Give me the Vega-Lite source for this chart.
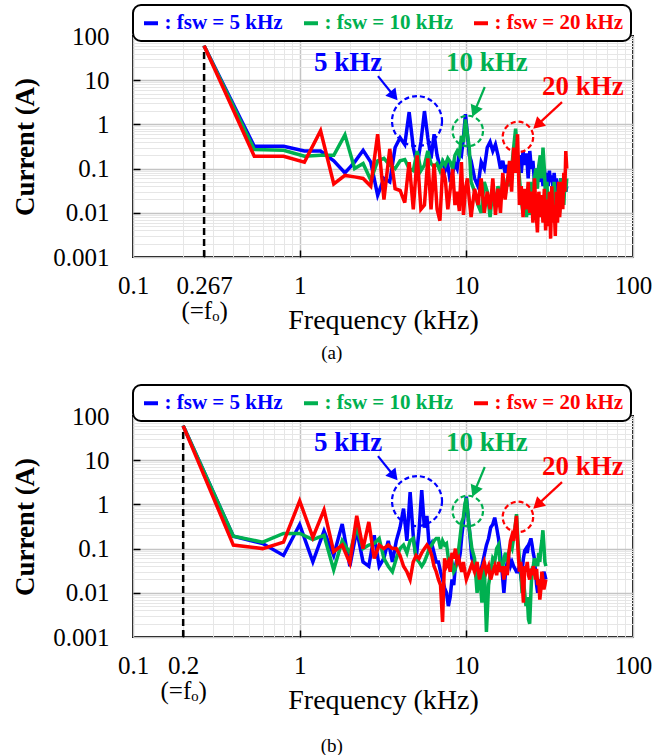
{
  "$schema": "https://vega.github.io/schema/vega-lite/v6.json",
  "padding": {"left": 10, "top": 3, "right": 5, "bottom": 0},
  "spacing": 19,
  "config": {
    "font": "Liberation Serif, Times New Roman, DejaVu Serif, serif",
    "view": {"stroke": "black", "strokeWidth": 2},
    "axis": {
      "labelFont": "Liberation Serif, Times New Roman, DejaVu Serif, serif", "labelFontSize": 25, "labelColor": "black",
      "titleFont": "Liberation Serif, Times New Roman, DejaVu Serif, serif", "titleColor": "black",
      "domain": false, "grid": true, "tickColor": "black", "tickWidth": 1.5, "tickSize": -7,
      "labelOverlap": false, "labelFlush": false, "labelBound": false
    },
    "legend": {"strokeWidth": 2},
    "title": {"font": "Liberation Serif, Times New Roman, DejaVu Serif, serif"}
  },
  "resolve": {"scale": {"color": "independent"}, "legend": {"color": "independent"}},
  "datasets": {
    "foA": [{"f": 0.267, "lo": 0.001, "hi": 60}],
    "foB": [{"f": 0.2, "lo": 0.001, "hi": 60}],
    "txt": [
      {"s": "b", "x": 1.95, "y": 24.5, "t": "5 kHz"},
      {"s": "g", "x": 13.3, "y": 24.5, "t": "10 kHz"},
      {"s": "r", "x": 50, "y": 7.0, "t": "20 kHz"}
    ],
    "circ": [
      {"s": "b", "x": 5.06, "y": 1.19},
      {"s": "g", "x": 10.2, "y": 0.71},
      {"s": "r", "x": 20.4, "y": 0.52}
    ],
    "arr": [
      {"s": "b", "x": 2.95, "y": 12.4, "x2": 3.68, "y2": 4.4},
      {"s": "g", "x": 12.9, "y": 7.0, "x2": 11.2, "y2": 1.96},
      {"s": "r", "x": 37.5, "y": 3.2, "x2": 26.7, "y2": 0.975}
    ],
    "A": [
      {"f": 0.267, "b": 60, "g": 60, "r": 60},
      {"f": 0.534, "b": 0.32, "g": 0.27, "r": 0.19},
      {"f": 0.801, "b": 0.32, "g": 0.26, "r": 0.19},
      {"f": 1.068, "b": 0.25, "g": 0.19, "r": 0.14},
      {"f": 1.335, "b": 0.25, "g": 0.2, "r": 0.72},
      {"f": 1.602, "b": 0.15, "g": 0.2, "r": 0.045},
      {"f": 1.869, "b": 0.08, "g": 0.58, "r": 0.07},
      {"f": 2.136, "b": 0.14, "g": 0.1, "r": 0.065},
      {"f": 2.403, "b": 0.26, "g": 0.13, "r": 0.06},
      {"f": 2.67, "b": 0.14, "g": 0.055, "r": 0.04},
      {"f": 2.937, "b": 0.025, "g": 0.15, "r": 0.6},
      {"f": 3.204, "b": 0.06, "g": 0.17, "r": 0.02},
      {"f": 3.471, "b": 0.05, "g": 0.12, "r": 0.28},
      {"f": 3.738, "b": 0.3, "g": 0.1, "r": 0.035},
      {"f": 4.005, "b": 0.5, "g": 0.15, "r": 0.032},
      {"f": 4.272, "b": 0.35, "g": 0.16, "r": 0.017},
      {"f": 4.539, "b": 1.9, "g": 0.1, "r": 0.14},
      {"f": 4.806, "b": 0.3, "g": 0.09, "r": 0.012},
      {"f": 5.073, "b": 0.12, "g": 0.25, "r": 0.2},
      {"f": 5.34, "b": 0.4, "g": 0.09, "r": 0.012},
      {"f": 5.607, "b": 2.0, "g": 0.12, "r": 0.015},
      {"f": 5.874, "b": 0.5, "g": 0.25, "r": 0.17},
      {"f": 6.141, "b": 0.17, "g": 0.13, "r": 0.012},
      {"f": 6.408, "b": 0.6, "g": 0.11, "r": 0.13},
      {"f": 6.675, "b": 0.2, "g": 0.13, "r": 0.012},
      {"f": 6.942, "b": 0.11, "g": 0.09, "r": 0.0066},
      {"f": 7.209, "b": 0.14, "g": 0.15, "r": 0.1},
      {"f": 7.476, "b": 0.09, "g": 0.12, "r": 0.058},
      {"f": 7.743, "b": 0.12, "g": 0.17, "r": 0.012},
      {"f": 8.01, "b": 0.05, "g": 0.14, "r": 0.035},
      {"f": 8.277, "b": 0.08, "g": 0.1, "r": 0.098},
      {"f": 8.544, "b": 0.13, "g": 0.2, "r": 0.015},
      {"f": 8.811, "b": 0.1, "g": 0.25, "r": 0.03},
      {"f": 9.078, "b": 0.23, "g": 0.2, "r": 0.011},
      {"f": 9.345, "b": 0.2, "g": 0.55, "r": 0.14},
      {"f": 9.612, "b": 0.5, "g": 0.4, "r": 0.009},
      {"f": 9.879, "b": 1.7, "g": 1.3, "r": 0.035},
      {"f": 10.146, "b": 0.6, "g": 0.6, "r": 0.06},
      {"f": 10.413, "b": 0.2, "g": 0.3, "r": 0.02},
      {"f": 10.68, "b": 0.15, "g": 0.05, "r": 0.008},
      {"f": 11.214, "b": 0.06, "g": 0.03, "r": 0.035},
      {"f": 11.748, "b": 0.04, "g": 0.015, "r": 0.015},
      {"f": 12.282, "b": 0.14, "g": 0.01, "r": 0.06},
      {"f": 12.816, "b": 0.1, "g": 0.05, "r": 0.01},
      {"f": 13.35, "b": 0.3, "g": 0.03, "r": 0.03},
      {"f": 13.884, "b": 0.4, "g": 0.008, "r": 0.012},
      {"f": 14.418, "b": 0.25, "g": 0.035, "r": 0.06},
      {"f": 14.952, "b": 0.35, "g": 0.015, "r": 0.009},
      {"f": 15.486, "b": 0.2, "g": 0.04, "r": 0.035},
      {"f": 16.02, "b": 0.1, "g": 0.02, "r": 0.01},
      {"f": 16.554, "b": 0.15, "g": 0.05, "r": 0.08},
      {"f": 17.088, "b": 0.08, "g": 0.025, "r": 0.02},
      {"f": 17.622, "b": 0.12, "g": 0.06, "r": 0.05},
      {"f": 18.156, "b": 0.07, "g": 0.04, "r": 0.15},
      {"f": 18.69, "b": 0.14, "g": 0.1, "r": 0.03},
      {"f": 19.224, "b": 0.09, "g": 0.3, "r": 0.3},
      {"f": 19.758, "b": 0.15, "g": 0.8, "r": 0.08},
      {"f": 20.292, "b": 0.1, "g": 0.2, "r": 0.6},
      {"f": 20.826, "b": 0.2, "g": 0.06, "r": 0.015},
      {"f": 21.36, "b": 0.08, "g": 0.02, "r": 0.04},
      {"f": 21.894, "b": 0.25, "g": 0.01, "r": 0.008},
      {"f": 22.428, "b": 0.12, "g": 0.03, "r": 0.035},
      {"f": 22.962, "b": 0.22, "g": 0.008, "r": 0.012},
      {"f": 23.496, "b": 0.06, "g": 0.02, "r": 0.05},
      {"f": 24.03, "b": 0.25, "g": 0.009, "r": 0.01},
      {"f": 24.564, "b": 0.1, "g": 0.05, "r": 0.03},
      {"f": 25.098, "b": 0.15, "g": 0.015, "r": 0.006},
      {"f": 25.632, "b": 0.05, "g": 0.06, "r": 0.06},
      {"f": 26.166, "b": 0.1, "g": 0.1, "r": 0.012},
      {"f": 26.7, "b": 0.06, "g": 0.035, "r": 0.0036},
      {"f": 27.234, "b": 0.12, "g": 0.12, "r": 0.03},
      {"f": 27.768, "b": 0.05, "g": 0.2, "r": 0.008},
      {"f": 28.302, "b": 0.09, "g": 0.06, "r": 0.025},
      {"f": 28.836, "b": 0.04, "g": 0.3, "r": 0.006},
      {"f": 29.37, "b": 0.1, "g": 0.1, "r": 0.035},
      {"f": 29.904, "b": 0.05, "g": 0.02, "r": 0.004},
      {"f": 30.438, "b": 0.08, "g": 0.05, "r": 0.02},
      {"f": 30.972, "b": 0.04, "g": 0.01, "r": 0.005},
      {"f": 31.506, "b": 0.09, "g": 0.03, "r": 0.03},
      {"f": 32.04, "b": 0.05, "g": 0.008, "r": 0.0026},
      {"f": 32.574, "b": 0.07, "g": 0.04, "r": 0.04},
      {"f": 33.108, "b": 0.035, "g": 0.012, "r": 0.006},
      {"f": 33.642, "b": 0.08, "g": 0.05, "r": 0.015},
      {"f": 34.176, "b": 0.04, "g": 0.007, "r": 0.003},
      {"f": 34.71, "b": 0.06, "g": 0.03, "r": 0.03},
      {"f": 35.244, "b": 0.03, "g": 0.01, "r": 0.006},
      {"f": 35.778, "b": 0.05, "g": 0.04, "r": 0.05},
      {"f": 36.312, "b": 0.025, "g": 0.01, "r": 0.008},
      {"f": 36.846, "b": 0.06, "g": 0.06, "r": 0.02},
      {"f": 37.38, "b": 0.03, "g": 0.02, "r": 0.05},
      {"f": 37.914, "b": 0.05, "g": 0.04, "r": 0.012},
      {"f": 38.448, "b": 0.035, "g": 0.015, "r": 0.08},
      {"f": 38.982, "b": 0.045, "g": 0.05, "r": 0.03},
      {"f": 39.516, "b": 0.03, "g": 0.03, "r": 0.25},
      {"f": 40.05, "b": 0.04, "g": 0.06, "r": 0.1}
    ],
    "B": [
      {"f": 0.2, "b": 60, "g": 60, "r": 60},
      {"f": 0.4, "b": 0.19, "g": 0.19, "r": 0.12},
      {"f": 0.6, "b": 0.13, "g": 0.14, "r": 0.1},
      {"f": 0.8, "b": 0.07, "g": 0.22, "r": 0.14},
      {"f": 1.0, "b": 0.35, "g": 0.22, "r": 1.2},
      {"f": 1.2, "b": 0.05, "g": 0.16, "r": 0.18},
      {"f": 1.4, "b": 0.25, "g": 0.2, "r": 0.75},
      {"f": 1.6, "b": 0.07, "g": 0.033, "r": 0.085},
      {"f": 1.8, "b": 0.36, "g": 0.15, "r": 0.12},
      {"f": 2.0, "b": 0.04, "g": 0.08, "r": 0.047},
      {"f": 2.2, "b": 0.26, "g": 0.3, "r": 0.55},
      {"f": 2.4, "b": 0.05, "g": 0.1, "r": 0.1},
      {"f": 2.6, "b": 0.04, "g": 0.12, "r": 0.4},
      {"f": 2.8, "b": 0.2, "g": 0.13, "r": 0.06},
      {"f": 3.0, "b": 0.04, "g": 0.17, "r": 0.12},
      {"f": 3.2, "b": 0.06, "g": 0.06, "r": 0.1},
      {"f": 3.4, "b": 0.15, "g": 0.04, "r": 0.12},
      {"f": 3.6, "b": 0.05, "g": 0.03, "r": 0.1},
      {"f": 3.8, "b": 0.15, "g": 0.06, "r": 0.1},
      {"f": 4.0, "b": 0.3, "g": 0.1, "r": 0.07},
      {"f": 4.2, "b": 0.8, "g": 0.12, "r": 0.04},
      {"f": 4.4, "b": 0.15, "g": 0.08, "r": 0.03},
      {"f": 4.6, "b": 1.9, "g": 0.15, "r": 0.02},
      {"f": 4.8, "b": 0.2, "g": 0.17, "r": 0.05},
      {"f": 5.0, "b": 0.06, "g": 0.06, "r": 0.07},
      {"f": 5.2, "b": 0.25, "g": 0.05, "r": 0.06},
      {"f": 5.4, "b": 2.1, "g": 0.04, "r": 0.08},
      {"f": 5.6, "b": 0.3, "g": 0.05, "r": 0.1},
      {"f": 5.8, "b": 0.55, "g": 0.07, "r": 0.12},
      {"f": 6.0, "b": 0.1, "g": 0.1, "r": 0.1},
      {"f": 6.2, "b": 0.13, "g": 0.12, "r": 0.07},
      {"f": 6.4, "b": 0.08, "g": 0.15, "r": 0.04},
      {"f": 6.6, "b": 0.05, "g": 0.17, "r": 0.03},
      {"f": 6.8, "b": 0.05, "g": 0.17, "r": 0.02},
      {"f": 7.0, "b": 0.03, "g": 0.1, "r": 0.015},
      {"f": 7.2, "b": 0.02, "g": 0.15, "r": 0.0022},
      {"f": 7.4, "b": 0.013, "g": 0.12, "r": 0.06},
      {"f": 7.6, "b": 0.01, "g": 0.13, "r": 0.04},
      {"f": 7.8, "b": 0.005, "g": 0.06, "r": 0.05},
      {"f": 8.0, "b": 0.008, "g": 0.04, "r": 0.03},
      {"f": 8.2, "b": 0.02, "g": 0.05, "r": 0.08},
      {"f": 8.4, "b": 0.015, "g": 0.03, "r": 0.06},
      {"f": 8.6, "b": 0.04, "g": 0.035, "r": 0.1},
      {"f": 8.8, "b": 0.06, "g": 0.05, "r": 0.05},
      {"f": 9.0, "b": 0.05, "g": 0.1, "r": 0.06},
      {"f": 9.2, "b": 0.08, "g": 0.2, "r": 0.04},
      {"f": 9.4, "b": 0.2, "g": 0.4, "r": 0.03},
      {"f": 9.6, "b": 0.4, "g": 0.5, "r": 0.05},
      {"f": 9.8, "b": 0.8, "g": 1.0, "r": 0.03},
      {"f": 10.0, "b": 1.5, "g": 1.4, "r": 0.02},
      {"f": 10.4, "b": 0.3, "g": 0.3, "r": 0.03},
      {"f": 10.8, "b": 0.06, "g": 0.1, "r": 0.045},
      {"f": 11.2, "b": 0.04, "g": 0.06, "r": 0.03},
      {"f": 11.6, "b": 0.025, "g": 0.01, "r": 0.05},
      {"f": 12.0, "b": 0.03, "g": 0.03, "r": 0.02},
      {"f": 12.4, "b": 0.04, "g": 0.006, "r": 0.035},
      {"f": 12.8, "b": 0.07, "g": 0.05, "r": 0.05},
      {"f": 13.2, "b": 0.12, "g": 0.0013, "r": 0.03},
      {"f": 13.6, "b": 0.17, "g": 0.015, "r": 0.04},
      {"f": 14.0, "b": 0.3, "g": 0.03, "r": 0.02},
      {"f": 14.4, "b": 0.35, "g": 0.06, "r": 0.03},
      {"f": 14.8, "b": 0.5, "g": 0.05, "r": 0.04},
      {"f": 15.2, "b": 0.3, "g": 0.1, "r": 0.025},
      {"f": 15.6, "b": 0.17, "g": 0.12, "r": 0.05},
      {"f": 16.0, "b": 0.08, "g": 0.04, "r": 0.03},
      {"f": 16.4, "b": 0.03, "g": 0.03, "r": 0.04},
      {"f": 16.8, "b": 0.01, "g": 0.06, "r": 0.02},
      {"f": 17.2, "b": 0.03, "g": 0.08, "r": 0.04},
      {"f": 17.6, "b": 0.05, "g": 0.05, "r": 0.025},
      {"f": 18.0, "b": 0.06, "g": 0.08, "r": 0.08},
      {"f": 18.4, "b": 0.04, "g": 0.12, "r": 0.15},
      {"f": 18.8, "b": 0.05, "g": 0.1, "r": 0.2},
      {"f": 19.2, "b": 0.04, "g": 0.17, "r": 0.15},
      {"f": 19.6, "b": 0.035, "g": 0.3, "r": 0.3},
      {"f": 20.0, "b": 0.03, "g": 0.6, "r": 0.55},
      {"f": 20.4, "b": 0.03, "g": 0.15, "r": 0.1},
      {"f": 20.8, "b": 0.04, "g": 0.06, "r": 0.03},
      {"f": 21.2, "b": 0.025, "g": 0.03, "r": 0.05},
      {"f": 21.6, "b": 0.03, "g": 0.01, "r": 0.02},
      {"f": 22.0, "b": 0.06, "g": 0.02, "r": 0.006},
      {"f": 22.4, "b": 0.09, "g": 0.01, "r": 0.04},
      {"f": 22.8, "b": 0.1, "g": 0.005, "r": 0.03},
      {"f": 23.2, "b": 0.08, "g": 0.008, "r": 0.05},
      {"f": 23.6, "b": 0.12, "g": 0.0025, "r": 0.025},
      {"f": 24.0, "b": 0.14, "g": 0.002, "r": 0.02},
      {"f": 24.4, "b": 0.17, "g": 0.01, "r": 0.035},
      {"f": 24.8, "b": 0.12, "g": 0.035, "r": 0.025},
      {"f": 25.2, "b": 0.08, "g": 0.04, "r": 0.04},
      {"f": 25.6, "b": 0.06, "g": 0.06, "r": 0.03},
      {"f": 26.0, "b": 0.03, "g": 0.05, "r": 0.02},
      {"f": 26.4, "b": 0.015, "g": 0.06, "r": 0.035},
      {"f": 26.8, "b": 0.01, "g": 0.04, "r": 0.015},
      {"f": 27.2, "b": 0.015, "g": 0.08, "r": 0.02},
      {"f": 27.6, "b": 0.02, "g": 0.05, "r": 0.007},
      {"f": 28.0, "b": 0.015, "g": 0.1, "r": 0.012},
      {"f": 28.4, "b": 0.025, "g": 0.15, "r": 0.03},
      {"f": 28.8, "b": 0.02, "g": 0.26, "r": 0.02},
      {"f": 29.2, "b": 0.03, "g": 0.12, "r": 0.012},
      {"f": 29.6, "b": 0.025, "g": 0.05, "r": 0.015},
      {"f": 30.0, "b": 0.02, "g": 0.04, "r": 0.02}
    ]
  },
  "vconcat": [
    {
      "width": 500, "height": 221,
      "title": {"text": "(a)", "orient": "bottom", "anchor": "middle", "frame": "bounds", "fontSize": 19, "fontWeight": "normal", "color": "black", "offset": 10},
      "layer": [
        {
          "data": {"name": "foA"},
          "mark": {"type": "rule", "color": "black", "strokeWidth": 2.5, "strokeDash": [7, 4]},
          "encoding": {
            "x": {"field": "f", "type": "quantitative"},
            "y": {"field": "lo", "type": "quantitative"},
            "y2": {"field": "hi"}
          }
        },
        {
          "data": {"name": "A"},
          "transform": [{"fold": ["b", "g", "r"], "as": ["s", "v"]}],
          "mark": {"type": "line", "strokeWidth": 3.5, "clip": true},
          "encoding": {
            "x": {
              "field": "f", "type": "quantitative",
              "scale": {"type": "log", "domain": [0.1, 100], "nice": false},
              "axis": {
                "title": "Frequency (kHz)", "titleFontSize": 28, "titleFontWeight": "normal", "titlePadding": -17,
                "values": [0.1, 0.2, 0.267, 0.3, 0.4, 0.5, 0.6, 0.7, 0.8, 0.9, 1, 2, 3, 4, 5, 6, 7, 8, 9, 10, 20, 30, 40, 50, 60, 70, 80, 90, 100],
                "labelExpr": "datum.value == 0.267 ? ['0.267', '(=fₒ)'] : (datum.value == 0.1 || datum.value == 1 || datum.value == 10 || datum.value == 100) ? format(datum.value, '~g') : ''",
                "labelPadding": 23, "labelLineHeight": 25,
                "gridColor": {"condition": {"test": "datum.value == 0.1 || datum.value == 1 || datum.value == 10 || datum.value == 100", "value": "#c4c4c4"}, "value": "#e6e6e6"},
                "gridWidth": {"condition": {"test": "datum.value == 0.1 || datum.value == 1 || datum.value == 10 || datum.value == 100", "value": 1.5}, "value": 1},
                "gridOpacity": {"condition": {"test": "datum.value == 0.267", "value": 0}, "value": 1},
                "tickOpacity": {"condition": {"test": "datum.value == 1 || datum.value == 10 || datum.value == 0.267", "value": 1}, "value": 0}
              }
            },
            "y": {
              "field": "v", "type": "quantitative",
              "scale": {"type": "log", "domain": [0.001, 100], "nice": false},
              "axis": {
                "title": "Current (A)", "titleFontSize": 27, "titleFontWeight": "bold", "titlePadding": 13,
                "values": [0.001, 0.002, 0.003, 0.004, 0.005, 0.006, 0.007, 0.008, 0.009, 0.01, 0.02, 0.03, 0.04, 0.05, 0.06, 0.07, 0.08, 0.09, 0.1, 0.2, 0.3, 0.4, 0.5, 0.6, 0.7, 0.8, 0.9, 1, 2, 3, 4, 5, 6, 7, 8, 9, 10, 20, 30, 40, 50, 60, 70, 80, 90, 100],
                "labelExpr": "(datum.value == 0.001 || datum.value == 0.01 || datum.value == 0.1 || datum.value == 1 || datum.value == 10 || datum.value == 100) ? format(datum.value, '~g') : ''",
                "labelPadding": 31,
                "gridColor": {"condition": {"test": "datum.value == 0.001 || datum.value == 0.01 || datum.value == 0.1 || datum.value == 1 || datum.value == 10 || datum.value == 100", "value": "#c4c4c4"}, "value": "#e6e6e6"},
                "gridWidth": {"condition": {"test": "datum.value == 0.001 || datum.value == 0.01 || datum.value == 0.1 || datum.value == 1 || datum.value == 10 || datum.value == 100", "value": 1.5}, "value": 1},
                "tickOpacity": {"condition": {"test": "datum.value == 0.01 || datum.value == 0.1 || datum.value == 1 || datum.value == 10", "value": 1}, "value": 0}
              }
            },
            "color": {
              "field": "s", "type": "nominal",
              "scale": {"domain": ["b", "g", "r"], "range": ["#0000FF", "#00B050", "#FF0000"]},
              "legend": {
                "orient": "top", "direction": "horizontal", "title": null,
                "symbolType": "stroke", "symbolSize": 196, "symbolStrokeWidth": 4,
                "labelFont": "Liberation Serif, Times New Roman, DejaVu Serif, serif", "labelFontSize": 21, "labelFontWeight": "bold",
                "labelExpr": "datum.label == 'b' ? ': fsw = 5 kHz' : datum.label == 'g' ? ': fsw = 10 kHz' : ': fsw = 20 kHz'",
                "labelColor": {"expr": "datum.value == 'b' ? '#0000FF' : datum.value == 'g' ? '#00B050' : '#FF0000'"},
                "labelLimit": 0, "labelOffset": 3,
                "strokeColor": "black", "fillColor": "white", "cornerRadius": 8, "padding": 7.5,
                "columnPadding": 12, "offset": -5
              }
            }
          }
        },
        {
          "data": {"name": "circ"},
          "mark": {"type": "point", "shape": "circle", "filled": false, "strokeDash": [5, 3], "strokeWidth": 2.2, "opacity": 1},
          "encoding": {
            "x": {"field": "x", "type": "quantitative"},
            "y": {"field": "y", "type": "quantitative"},
            "color": {"field": "s", "type": "nominal", "legend": null},
            "size": {"condition": {"test": "datum.s == 'b'", "value": 2500}, "value": 930}
          }
        },
        {
          "data": {"name": "arr"},
          "mark": {"type": "rule", "strokeWidth": 2.2},
          "encoding": {
            "x": {"field": "x", "type": "quantitative"},
            "y": {"field": "y", "type": "quantitative"},
            "x2": {"field": "x2"},
            "y2": {"field": "y2"},
            "color": {"field": "s", "type": "nominal", "legend": null}
          }
        },
        {
          "data": {"name": "arr"},
          "transform": [{"filter": "datum.s == 'b'"}],
          "mark": {"type": "point", "shape": "triangle-up", "filled": true, "opacity": 1, "size": 170, "angle": 141},
          "encoding": {
            "x": {"field": "x2", "type": "quantitative"},
            "y": {"field": "y2", "type": "quantitative"},
            "color": {"field": "s", "type": "nominal", "legend": null}
          }
        },
        {
          "data": {"name": "arr"},
          "transform": [{"filter": "datum.s == 'g'"}],
          "mark": {"type": "point", "shape": "triangle-up", "filled": true, "opacity": 1, "size": 170, "angle": 203},
          "encoding": {
            "x": {"field": "x2", "type": "quantitative"},
            "y": {"field": "y2", "type": "quantitative"},
            "color": {"field": "s", "type": "nominal", "legend": null}
          }
        },
        {
          "data": {"name": "arr"},
          "transform": [{"filter": "datum.s == 'r'"}],
          "mark": {"type": "point", "shape": "triangle-up", "filled": true, "opacity": 1, "size": 170, "angle": 227},
          "encoding": {
            "x": {"field": "x2", "type": "quantitative"},
            "y": {"field": "y2", "type": "quantitative"},
            "color": {"field": "s", "type": "nominal", "legend": null}
          }
        },
        {
          "data": {"name": "txt"},
          "mark": {"type": "text", "font": "Liberation Serif, Times New Roman, DejaVu Serif, serif", "fontWeight": "bold", "fontSize": 27, "align": "center", "baseline": "middle"},
          "encoding": {
            "x": {"field": "x", "type": "quantitative"},
            "y": {"field": "y", "type": "quantitative"},
            "text": {"field": "t"},
            "color": {"field": "s", "type": "nominal", "legend": null}
          }
        }
      ]
    },
    {
      "width": 500, "height": 221,
      "title": {"text": "(b)", "orient": "bottom", "anchor": "middle", "frame": "bounds", "fontSize": 19, "fontWeight": "normal", "color": "black", "offset": 23},
      "layer": [
        {
          "data": {"name": "foB"},
          "mark": {"type": "rule", "color": "black", "strokeWidth": 2.5, "strokeDash": [7, 4]},
          "encoding": {
            "x": {"field": "f", "type": "quantitative"},
            "y": {"field": "lo", "type": "quantitative"},
            "y2": {"field": "hi"}
          }
        },
        {
          "data": {"name": "B"},
          "transform": [{"fold": ["b", "g", "r"], "as": ["s", "v"]}],
          "mark": {"type": "line", "strokeWidth": 3.5, "clip": true},
          "encoding": {
            "x": {
              "field": "f", "type": "quantitative",
              "scale": {"type": "log", "domain": [0.1, 100], "nice": false},
              "axis": {
                "title": "Frequency (kHz)", "titleFontSize": 28, "titleFontWeight": "normal", "titlePadding": -17,
                "values": [0.1, 0.2, 0.3, 0.4, 0.5, 0.6, 0.7, 0.8, 0.9, 1, 2, 3, 4, 5, 6, 7, 8, 9, 10, 20, 30, 40, 50, 60, 70, 80, 90, 100],
                "labelExpr": "datum.value == 0.2 ? ['0.2', '(=fₒ)'] : (datum.value == 0.1 || datum.value == 1 || datum.value == 10 || datum.value == 100) ? format(datum.value, '~g') : ''",
                "labelPadding": 23, "labelLineHeight": 25,
                "gridColor": {"condition": {"test": "datum.value == 0.1 || datum.value == 1 || datum.value == 10 || datum.value == 100", "value": "#c4c4c4"}, "value": "#e6e6e6"},
                "gridWidth": {"condition": {"test": "datum.value == 0.1 || datum.value == 1 || datum.value == 10 || datum.value == 100", "value": 1.5}, "value": 1},
                "tickOpacity": {"condition": {"test": "datum.value == 1 || datum.value == 10 || datum.value == 0.2", "value": 1}, "value": 0}
              }
            },
            "y": {
              "field": "v", "type": "quantitative",
              "scale": {"type": "log", "domain": [0.001, 100], "nice": false},
              "axis": {
                "title": "Current (A)", "titleFontSize": 27, "titleFontWeight": "bold", "titlePadding": 13,
                "values": [0.001, 0.002, 0.003, 0.004, 0.005, 0.006, 0.007, 0.008, 0.009, 0.01, 0.02, 0.03, 0.04, 0.05, 0.06, 0.07, 0.08, 0.09, 0.1, 0.2, 0.3, 0.4, 0.5, 0.6, 0.7, 0.8, 0.9, 1, 2, 3, 4, 5, 6, 7, 8, 9, 10, 20, 30, 40, 50, 60, 70, 80, 90, 100],
                "labelExpr": "(datum.value == 0.001 || datum.value == 0.01 || datum.value == 0.1 || datum.value == 1 || datum.value == 10 || datum.value == 100) ? format(datum.value, '~g') : ''",
                "labelPadding": 31,
                "gridColor": {"condition": {"test": "datum.value == 0.001 || datum.value == 0.01 || datum.value == 0.1 || datum.value == 1 || datum.value == 10 || datum.value == 100", "value": "#c4c4c4"}, "value": "#e6e6e6"},
                "gridWidth": {"condition": {"test": "datum.value == 0.001 || datum.value == 0.01 || datum.value == 0.1 || datum.value == 1 || datum.value == 10 || datum.value == 100", "value": 1.5}, "value": 1},
                "tickOpacity": {"condition": {"test": "datum.value == 0.01 || datum.value == 0.1 || datum.value == 1 || datum.value == 10", "value": 1}, "value": 0}
              }
            },
            "color": {
              "field": "s", "type": "nominal",
              "scale": {"domain": ["b", "g", "r"], "range": ["#0000FF", "#00B050", "#FF0000"]},
              "legend": {
                "orient": "top", "direction": "horizontal", "title": null,
                "symbolType": "stroke", "symbolSize": 196, "symbolStrokeWidth": 4,
                "labelFont": "Liberation Serif, Times New Roman, DejaVu Serif, serif", "labelFontSize": 21, "labelFontWeight": "bold",
                "labelExpr": "datum.label == 'b' ? ': fsw = 5 kHz' : datum.label == 'g' ? ': fsw = 10 kHz' : ': fsw = 20 kHz'",
                "labelColor": {"expr": "datum.value == 'b' ? '#0000FF' : datum.value == 'g' ? '#00B050' : '#FF0000'"},
                "labelLimit": 0, "labelOffset": 3,
                "strokeColor": "black", "fillColor": "white", "cornerRadius": 8, "padding": 7.5,
                "columnPadding": 12, "offset": -5
              }
            }
          }
        },
        {
          "data": {"name": "circ"},
          "mark": {"type": "point", "shape": "circle", "filled": false, "strokeDash": [5, 3], "strokeWidth": 2.2, "opacity": 1},
          "encoding": {
            "x": {"field": "x", "type": "quantitative"},
            "y": {"field": "y", "type": "quantitative"},
            "color": {"field": "s", "type": "nominal", "legend": null},
            "size": {"condition": {"test": "datum.s == 'b'", "value": 2500}, "value": 930}
          }
        },
        {
          "data": {"name": "arr"},
          "mark": {"type": "rule", "strokeWidth": 2.2},
          "encoding": {
            "x": {"field": "x", "type": "quantitative"},
            "y": {"field": "y", "type": "quantitative"},
            "x2": {"field": "x2"},
            "y2": {"field": "y2"},
            "color": {"field": "s", "type": "nominal", "legend": null}
          }
        },
        {
          "data": {"name": "arr"},
          "transform": [{"filter": "datum.s == 'b'"}],
          "mark": {"type": "point", "shape": "triangle-up", "filled": true, "opacity": 1, "size": 170, "angle": 141},
          "encoding": {
            "x": {"field": "x2", "type": "quantitative"},
            "y": {"field": "y2", "type": "quantitative"},
            "color": {"field": "s", "type": "nominal", "legend": null}
          }
        },
        {
          "data": {"name": "arr"},
          "transform": [{"filter": "datum.s == 'g'"}],
          "mark": {"type": "point", "shape": "triangle-up", "filled": true, "opacity": 1, "size": 170, "angle": 203},
          "encoding": {
            "x": {"field": "x2", "type": "quantitative"},
            "y": {"field": "y2", "type": "quantitative"},
            "color": {"field": "s", "type": "nominal", "legend": null}
          }
        },
        {
          "data": {"name": "arr"},
          "transform": [{"filter": "datum.s == 'r'"}],
          "mark": {"type": "point", "shape": "triangle-up", "filled": true, "opacity": 1, "size": 170, "angle": 227},
          "encoding": {
            "x": {"field": "x2", "type": "quantitative"},
            "y": {"field": "y2", "type": "quantitative"},
            "color": {"field": "s", "type": "nominal", "legend": null}
          }
        },
        {
          "data": {"name": "txt"},
          "mark": {"type": "text", "font": "Liberation Serif, Times New Roman, DejaVu Serif, serif", "fontWeight": "bold", "fontSize": 27, "align": "center", "baseline": "middle"},
          "encoding": {
            "x": {"field": "x", "type": "quantitative"},
            "y": {"field": "y", "type": "quantitative"},
            "text": {"field": "t"},
            "color": {"field": "s", "type": "nominal", "legend": null}
          }
        }
      ]
    }
  ]
}
